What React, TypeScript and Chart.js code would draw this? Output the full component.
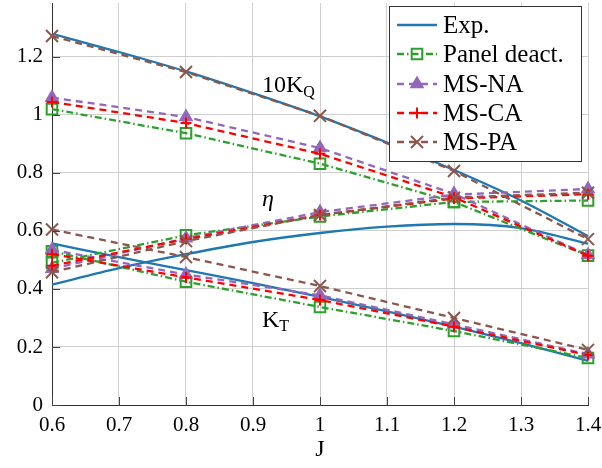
import { useEffect, useRef } from 'react';
import { Chart, registerables } from 'chart.js';

Chart.register(...registerables);

// Advance coefficient J at which the simulations were run
const jPoints = [0.6, 0.8, 1.0, 1.2, 1.4];
// Experimental curves are sampled more densely
const expJ = [0.6, 0.7, 0.8, 0.9, 1.0, 1.1, 1.2, 1.3, 1.4];

const expKQ10 = [1.28, 1.217, 1.15, 1.075, 0.995, 0.905, 0.81, 0.705, 0.582];
const expEta = [0.415, 0.472, 0.52, 0.562, 0.593, 0.615, 0.624, 0.61, 0.556];
const expKT = [0.557, 0.51, 0.465, 0.42, 0.373, 0.323, 0.27, 0.213, 0.152];

const panelKQ10 = [1.02, 0.937, 0.832, 0.7, 0.515];
const panelEta = [0.49, 0.585, 0.65, 0.7, 0.705];
const panelKT = [0.53, 0.425, 0.338, 0.255, 0.162];

const naKQ10 = [1.06, 0.993, 0.886, 0.728, 0.517];
const naEta = [0.47, 0.575, 0.665, 0.725, 0.745];
const naKT = [0.535, 0.45, 0.378, 0.278, 0.175];

const caKQ10 = [1.045, 0.972, 0.866, 0.716, 0.515];
const caEta = [0.48, 0.572, 0.655, 0.712, 0.727];
const caKT = [0.52, 0.44, 0.362, 0.27, 0.172];

const paKQ10 = [1.272, 1.148, 0.997, 0.807, 0.572];
const paEta = [0.458, 0.565, 0.655, 0.715, 0.732];
const paKT = [0.605, 0.51, 0.41, 0.3, 0.19];

const seriesLabels = ['Exp.', 'Panel deact.', 'MS-NA', 'MS-CA', 'MS-PA'];
const yTickValues = [0, 0.2, 0.4, 0.6, 0.8, 1, 1.2];

const SERIF = 'Liberation Serif, DejaVu Serif, serif';

type Style = {
  color: string;
  dash: number[];
  marker: 'none' | 'rect' | 'triangle' | 'cross' | 'crossRot';
  radius: number;
  fill: string;
};

const styles: Style[] = [
  { color: '#1f77b4', dash: [], marker: 'none', radius: 0, fill: 'transparent' },
  { color: '#2ca02c', dash: [7, 3, 1.5, 3], marker: 'rect', radius: 7.5, fill: 'transparent' },
  { color: '#9467bd', dash: [7, 5], marker: 'triangle', radius: 6.5, fill: '#9467bd' },
  { color: '#ff0000', dash: [7, 5], marker: 'cross', radius: 5.5, fill: '#ff0000' },
  { color: '#8c564b', dash: [7, 5], marker: 'crossRot', radius: 8.5, fill: '#8c564b' },
];

const groups: number[][][] = [
  [expKQ10, expEta, expKT],
  [panelKQ10, panelEta, panelKT],
  [naKQ10, naEta, naKT],
  [caKQ10, caEta, caKT],
  [paKQ10, paEta, paKT],
];

const LINE_W = 2.3;

function drawMarker(ctx: CanvasRenderingContext2D, s: Style, x: number, y: number) {
  const r = s.radius;
  ctx.save();
  ctx.setLineDash([]);
  ctx.strokeStyle = s.color;
  ctx.fillStyle = s.fill;
  ctx.lineWidth = 2;
  ctx.beginPath();
  if (s.marker === 'rect') {
    const h = r * Math.SQRT1_2;
    ctx.rect(x - h, y - h, 2 * h, 2 * h);
    ctx.stroke();
  } else if (s.marker === 'triangle') {
    ctx.moveTo(x, y - r);
    ctx.lineTo(x + r * Math.sin(2.0944), y - r * Math.cos(2.0944));
    ctx.lineTo(x + r * Math.sin(4.1888), y - r * Math.cos(4.1888));
    ctx.closePath();
    ctx.fill();
    ctx.stroke();
  } else if (s.marker === 'cross') {
    ctx.moveTo(x, y - r);
    ctx.lineTo(x, y + r);
    ctx.moveTo(x - r, y);
    ctx.lineTo(x + r, y);
    ctx.stroke();
  } else if (s.marker === 'crossRot') {
    const h = r * Math.SQRT1_2;
    ctx.moveTo(x - h, y - h);
    ctx.lineTo(x + h, y + h);
    ctx.moveTo(x + h, y - h);
    ctx.lineTo(x - h, y + h);
    ctx.stroke();
  }
  ctx.restore();
}

const overlay = {
  id: 'overlay',
  afterDraw(chart: any) {
    const ctx: CanvasRenderingContext2D = chart.ctx;
    const area = chart.chartArea;
    const xs = chart.scales.x;
    const ys = chart.scales.y;

    // inward tick marks
    ctx.save();
    ctx.strokeStyle = '#444';
    ctx.lineWidth = 1;
    ctx.beginPath();
    for (const v of yTickValues) {
      const py = Math.round(ys.getPixelForValue(v)) + 0.5;
      ctx.moveTo(area.left, py);
      ctx.lineTo(area.left + 8, py);
    }
    for (const v of expJ) {
      const px = Math.round(xs.getPixelForValue(v)) + 0.5;
      ctx.moveTo(px, area.bottom);
      ctx.lineTo(px, area.bottom - 8);
    }
    ctx.stroke();
    ctx.restore();

    // curve annotations
    ctx.save();
    ctx.fillStyle = '#000';
    ctx.textBaseline = 'alphabetic';
    ctx.textAlign = 'left';
    ctx.font = `24px ${SERIF}`;
    ctx.fillText('10K', 262, 92);
    let w = ctx.measureText('10K').width;
    ctx.font = `16px ${SERIF}`;
    ctx.fillText('Q', 262 + w, 97);
    ctx.font = `italic 24px ${SERIF}`;
    ctx.fillText('η', 262, 206);
    ctx.font = `24px ${SERIF}`;
    ctx.fillText('K', 262, 327);
    w = ctx.measureText('K').width;
    ctx.font = `16px ${SERIF}`;
    ctx.fillText('T', 262 + w, 331);
    // axis title
    ctx.font = `24px ${SERIF}`;
    ctx.textAlign = 'center';
    ctx.fillText('J', (area.left + area.right) / 2, 456);
    ctx.restore();

    // legend
    const bx = 389.5, by = 6.5, bw = 192, bh = 155;
    ctx.save();
    ctx.fillStyle = '#fff';
    ctx.fillRect(bx, by, bw, bh);
    ctx.strokeStyle = '#333';
    ctx.lineWidth = 1;
    ctx.strokeRect(bx, by, bw, bh);
    const rows = [25, 54, 84, 113, 142];
    seriesLabels.forEach((label, i) => {
      const s = styles[i];
      const cy = rows[i];
      ctx.save();
      ctx.strokeStyle = s.color;
      ctx.lineWidth = LINE_W;
      ctx.setLineDash(s.dash);
      ctx.beginPath();
      ctx.moveTo(397, cy);
      ctx.lineTo(437, cy);
      ctx.stroke();
      ctx.restore();
      if (s.marker !== 'none') drawMarker(ctx, s, 417, cy);
      ctx.fillStyle = '#000';
      ctx.font = `25px ${SERIF}`;
      ctx.textAlign = 'left';
      ctx.textBaseline = 'middle';
      ctx.fillText(label, 443, cy + 1);
    });
    ctx.restore();
  },
};

export default function App() {
  const canvasRef = useRef<HTMLCanvasElement | null>(null);

  useEffect(() => {
    document.body.style.margin = '0';
    const canvas = canvasRef.current;
    if (!canvas) return;

    const datasets: any[] = [];
    groups.forEach((sets, i) => {
      const s = styles[i];
      const xVals = i === 0 ? expJ : jPoints;
      sets.forEach((vals) => {
        datasets.push({
          label: seriesLabels[i],
          data: vals.map((v, k) => ({ x: xVals[k], y: v })),
          borderColor: s.color,
          backgroundColor: s.fill,
          borderWidth: LINE_W,
          borderDash: s.dash,
          pointStyle: s.marker === 'none' ? false : s.marker,
          pointRadius: s.radius,
          pointBorderWidth: 2,
          pointBorderColor: s.color,
          pointBackgroundColor: s.fill,
          cubicInterpolationMode: i === 0 ? 'monotone' : 'default',
          tension: 0,
          order: 5 - i,
          clip: false,
        });
      });
    });

    const fmt = (v: any) => String(Number(Number(v).toFixed(1)));

    const chart = new Chart(canvas, {
      type: 'line',
      data: { datasets },
      plugins: [overlay],
      options: {
        animation: false,
        responsive: false,
        devicePixelRatio: 1,
        layout: { autoPadding: false, padding: { left: 0, right: 14, top: 3, bottom: 0 } },
        plugins: { legend: { display: false }, tooltip: { enabled: false } },
        scales: {
          x: {
            type: 'linear',
            min: 0.6,
            max: 1.4,
            afterFit: (scale: any) => {
              scale.height = 63;
              scale.paddingLeft = 0;
              scale.paddingRight = 0;
            },
            grid: { color: '#cfcfcf', lineWidth: 1, drawTicks: false },
            border: { display: true, color: '#333', width: 1 },
            ticks: {
              stepSize: 0.1,
              padding: 8,
              color: '#000',
              font: { family: SERIF, size: 21 },
              callback: fmt,
              maxRotation: 0,
              autoSkip: false,
            },
          },
          y: {
            type: 'linear',
            min: 0,
            max: 1.386,
            afterFit: (scale: any) => {
              scale.width = 52;
              scale.paddingTop = 0;
              scale.paddingBottom = 0;
            },
            grid: { color: '#cfcfcf', lineWidth: 1, drawTicks: false },
            border: { display: true, color: '#333', width: 1 },
            ticks: {
              stepSize: 0.2,
              includeBounds: false,
              padding: 9,
              color: '#000',
              font: { family: SERIF, size: 21 },
              callback: fmt,
            },
          },
        },
      },
    });

    return () => chart.destroy();
  }, []);

  return (
    <div style={{ width: 602, height: 468 }}>
      <canvas ref={canvasRef} width={602} height={468} />
    </div>
  );
}
